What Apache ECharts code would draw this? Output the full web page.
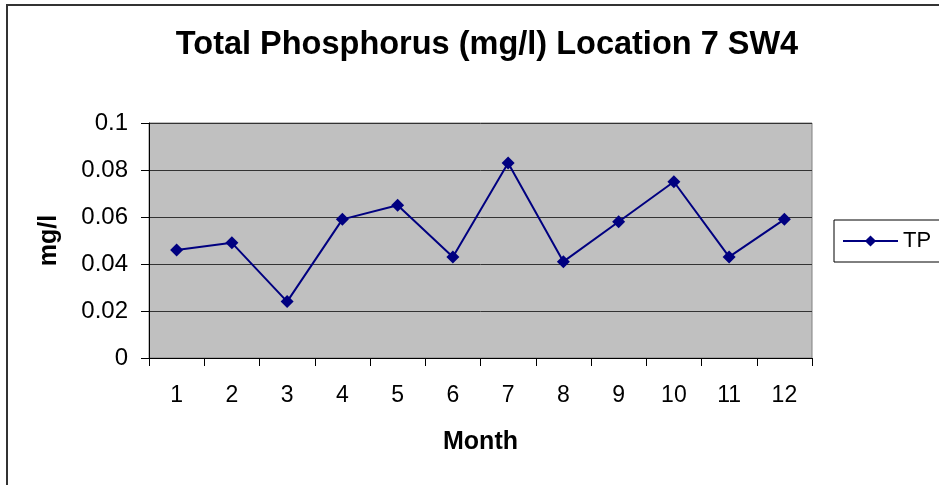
<!DOCTYPE html>
<html>
<head>
<meta charset="utf-8">
<script src="https://cdn.jsdelivr.net/npm/echarts@6/dist/echarts.min.js"></script>
<style>
  html, body { margin: 0; padding: 0; background: #fff; }
  #frame { position: absolute; left: 6px; top: 4px; width: 960px; height: 500px; border: 2px solid #333; box-sizing: border-box; }
  #echart { position: absolute; left: 0; top: 0; width: 939px; height: 485px; }
</style>
</head>
<body>
<div id="frame"></div>
<div id="echart"></div>
<script>
var months = ['1', '2', '3', '4', '5', '6', '7', '8', '9', '10', '11', '12'];
var tpValues = [0.046, 0.049, 0.024, 0.059, 0.065, 0.043, 0.083, 0.041, 0.058, 0.075, 0.043, 0.059];

var myChart = echarts.init(document.getElementById('echart'));
var font = 'Liberation Sans, Arial, sans-serif';
var option = {
    animation: false,
    title: {
        text: 'Total Phosphorus (mg/l) Location 7 SW4',
        left: 482,
        textAlign: 'center',
        top: 24,
        textStyle: { fontFamily: font, fontSize: 32.5, fontWeight: 'bold', color: '#000' }
    },
    legend: {
        data: ['TP'],
        left: 834,
        top: 220,
        height: 42,
        padding: [10, 40, 10, 8],
        itemWidth: 55,
        itemHeight: 14,
        borderColor: '#000',
        borderWidth: 1,
        borderRadius: 0,
        textStyle: { fontFamily: font, fontSize: 22, color: '#000' }
    },
    grid: { left: 149, right: 127, top: 123, bottom: 127, show: true, backgroundColor: '#c0c0c0', borderColor: '#808080', borderWidth: 1 },
    xAxis: {
        type: 'category',
        data: months,
        boundaryGap: true,
        name: 'Month',
        nameLocation: 'middle',
        nameGap: 72,
        nameTextStyle: { fontFamily: font, fontSize: 25, fontWeight: 'bold', color: '#000' },
        axisLine: { lineStyle: { color: '#000', width: 1 } },
        axisTick: { show: true, length: 8, alignWithLabel: false, lineStyle: { color: '#000' } },
        axisLabel: { fontFamily: font, fontSize: 23, color: '#000', margin: 26 },
        splitLine: { show: false }
    },
    yAxis: {
        type: 'value',
        min: 0,
        max: 0.1,
        interval: 0.02,
        name: 'mg/l',
        nameLocation: 'middle',
        nameGap: 87,
        nameRotate: 90,
        nameTextStyle: { fontFamily: font, fontSize: 25, fontWeight: 'bold', color: '#000' },
        axisLine: { show: true, lineStyle: { color: '#000', width: 1 } },
        axisTick: { show: true, length: 8, inside: false, lineStyle: { color: '#000' } },
        axisLabel: { fontFamily: font, fontSize: 24, color: '#000', margin: 21 },
        splitLine: { show: true, lineStyle: { color: '#333', width: 1 } }
    },
    series: [{
        name: 'TP',
        type: 'line',
        data: tpValues,
        symbol: 'diamond',
        symbolSize: 13,
        lineStyle: { color: '#000080', width: 2 },
        itemStyle: { color: '#000080' }
    }]
};
myChart.setOption(option);
</script>
</body>
</html>
